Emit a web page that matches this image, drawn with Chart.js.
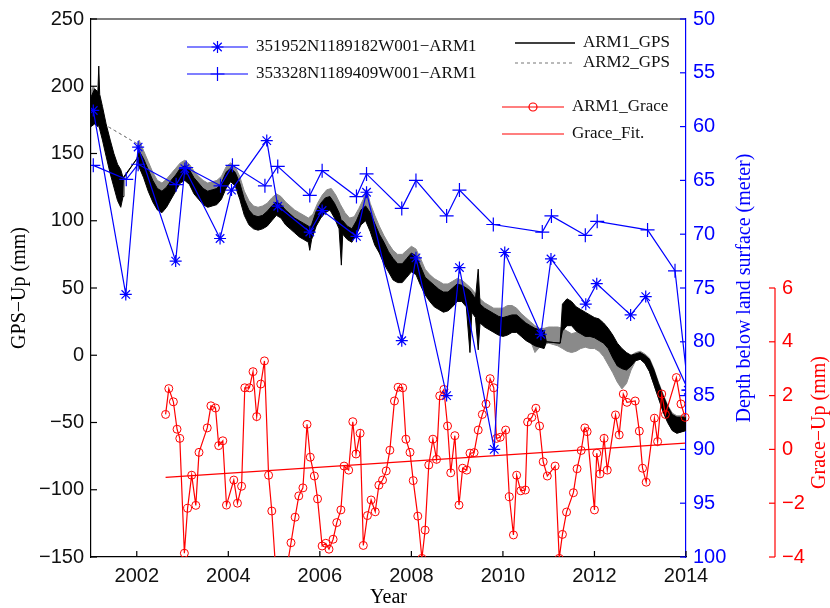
<!DOCTYPE html>
<html><head><meta charset="utf-8">
<script src="https://cdn.jsdelivr.net/npm/chart.js@4/dist/chart.umd.min.js"></script>
<style>html,body{margin:0;padding:0;background:#fff}</style>
</head><body>
<canvas id="c" width="830" height="608" style="width:830px;height:608px;display:block"></canvas>
<script>
// ---------- tick labels ----------
const xTicks = [2002, 2004, 2006, 2008, 2010, 2012, 2014];
const gpsTicks = [-150, -100, -50, 0, 50, 100, 150, 200, 250];
const depthTicks = [50, 55, 60, 65, 70, 75, 80, 85, 90, 95, 100];
const graceTicks = [-4, -2, 0, 2, 4, 6];

// ---------- ARM1_GPS (black), envelope (mm) ----------
const arm1T  = [2001.00,2001.08,2001.15,2001.17,2001.19,2001.25,2001.33,2001.42,2001.50,2001.58,2001.65,2001.70,2001.72,2002.00,2002.05,2002.15,2002.25,2002.35,2002.45,2002.55,2002.65,2002.75,2002.85,2002.95,2003.05,2003.15,2003.25,2003.35,2003.45,2003.55,2003.65,2003.75,2003.85,2003.95,2004.05,2004.15,2004.25,2004.35,2004.45,2004.55,2004.65,2004.75,2004.85,2004.95,2005.05,2005.15,2005.25,2005.35,2005.45,2005.55,2005.65,2005.75,2005.78,2005.82,2005.92,2006.02,2006.12,2006.22,2006.32,2006.42,2006.47,2006.50,2006.60,2006.70,2006.80,2006.90,2007.00,2007.10,2007.20,2007.30,2007.40,2007.50,2007.60,2007.70,2007.80,2007.90,2008.00,2008.10,2008.20,2008.30,2008.40,2008.50,2008.60,2008.70,2008.80,2008.90,2009.00,2009.10,2009.20,2009.28,2009.32,2009.40,2009.46,2009.50,2009.60,2009.70,2009.80,2009.90,2010.00,2010.10,2010.20,2010.30,2010.40,2010.50,2010.60,2010.70,2010.80,2010.90,2010.95,2011.25,2011.30,2011.40,2011.50,2011.60,2011.70,2011.80,2011.90,2012.00,2012.10,2012.20,2012.30,2012.40,2012.50,2012.60,2012.70,2012.80,2012.90,2013.00,2013.10,2013.20,2013.30,2013.40,2013.50,2013.60,2013.70,2013.80,2013.90,2014.00];
const arm1Lo = [170,172,170,172,168,160,148,135,125,115,110,118,132,146,140,132,122,114,108,106,110,116,122,128,130,127,120,116,112,110,111,112,116,124,129,126,116,104,97,94,93,94,96,100,104,102,97,94,91,88,86,84,78,86,96,102,106,108,102,94,67,90,86,84,90,97,100,92,82,76,68,62,56,54,54,58,62,60,52,45,40,36,34,32,33,36,40,40,36,2,32,28,4,24,21,19,17,15,14,15,17,17,14,11,9,7,6,5,10,9,18,22,22,18,16,14,14,13,11,9,5,-2,-8,-10,-11,-8,-4,-3,-6,-12,-22,-32,-42,-50,-56,-58,-57,-56];
const arm1Hi = [192,198,196,215,194,185,172,160,150,142,138,132,132,146,152,146,138,130,124,122,125,130,134,139,141,138,132,128,124,122,123,124,128,136,139,136,128,116,108,104,103,104,107,111,114,112,108,105,102,100,98,96,95,97,107,113,117,118,113,106,100,100,96,94,100,108,111,106,98,90,84,77,72,68,68,72,76,74,66,58,55,52,49,47,47,50,53,52,50,48,46,42,64,38,35,33,31,29,28,29,30,30,27,24,22,20,19,18,10,9,38,42,40,36,34,32,30,28,27,24,20,15,9,5,2,0,1,2,0,-3,-11,-21,-30,-38,-44,-46,-46,-46];

// ---------- ARM2_GPS (grey) ----------
const arm2T  = [2001.00,2001.05,2001.12,2001.20,2001.26,2001.27,2002.02,2002.05,2002.15,2002.25,2002.35,2002.45,2002.55,2002.65,2002.75,2002.85,2002.95,2003.05,2003.15,2003.25,2003.35,2003.45,2003.55,2003.65,2003.75,2003.85,2003.95,2004.05,2004.15,2004.25,2004.35,2004.45,2004.55,2004.65,2004.75,2004.85,2004.95,2005.05,2005.15,2005.25,2005.35,2005.45,2005.55,2005.65,2005.75,2005.85,2005.95,2006.05,2006.15,2006.25,2006.35,2006.45,2006.55,2006.65,2006.75,2006.85,2006.95,2007.02,2007.10,2007.20,2007.30,2007.40,2007.50,2007.60,2007.70,2007.80,2007.90,2008.00,2008.10,2008.20,2008.30,2008.40,2008.50,2008.60,2008.70,2008.80,2008.90,2009.00,2009.10,2009.20,2009.30,2009.40,2009.50,2009.60,2009.70,2009.80,2009.90,2010.00,2010.10,2010.20,2010.30,2010.40,2010.50,2010.60,2010.70,2010.80,2010.90,2011.00,2011.10,2011.20,2011.30,2011.40,2011.50,2011.60,2011.70,2011.80,2011.90,2012.00,2012.10,2012.20,2012.30,2012.40,2012.50,2012.60,2012.70,2012.80,2012.90,2013.00,2013.10,2013.20,2013.30,2013.40,2013.50,2013.60,2013.70,2013.80,2013.90,2014.00];
const arm2Lo = [176,178,172,168,166,172,157,150,140,130,122,116,114,117,122,127,132,134,131,125,121,118,116,117,118,122,129,133,130,121,110,103,100,99,100,102,106,109,108,103,100,97,94,92,90,94,102,108,112,113,108,100,95,92,92,98,104,106,100,90,82,75,69,64,62,62,65,68,66,58,51,47,44,42,40,40,42,45,44,40,36,32,28,26,24,22,22,22,24,24,22,18,15,11,2,6,8,9,8,7,5,3,2,3,5,6,5,5,3,-1,-7,-13,-20,-25,-21,-11,-4,-3,-6,-12,-22,-32,-42,-50,-56,-58,-57,-56];
const arm2Hi = [196,200,195,188,178,172,157,160,152,144,136,130,128,131,135,139,143,145,142,137,133,130,128,129,130,133,140,143,140,133,122,115,111,110,111,113,117,120,118,114,111,108,106,104,102,105,113,119,123,124,119,112,106,102,103,109,116,124,113,104,96,89,83,78,75,75,78,81,79,72,64,60,57,55,53,53,55,57,56,53,50,46,42,39,37,35,35,35,37,37,35,31,28,25,22,20,20,21,21,21,20,18,16,17,19,20,18,18,16,12,6,0,-7,-11,-8,0,2,3,1,-2,-10,-20,-29,-37,-43,-45,-45,-45];
const arm2GapStart = 2001.27, arm2GapEnd = 2002.02;

// ---------- groundwater depth (m) ----------
const well1T = [2001.05,2001.76,2002.03,2002.85,2003.05,2003.82,2004.07,2004.84,2005.08,2005.78,2006.05,2006.80,2007.02,2007.79,2008.10,2008.77,2009.05,2009.81,2010.04,2010.83,2011.05,2011.81,2012.05,2012.79,2013.12,2014.05];
const well1D = [58.5,75.6,61.9,72.5,63.9,70.4,65.9,61.3,67.4,69.8,67.8,70.2,66.1,79.9,72.2,85.0,73.1,90.0,71.7,79.3,72.3,76.5,74.6,77.5,75.8,84.5];
const well2T = [2001.05,2001.77,2002.03,2002.86,2003.08,2003.83,2004.09,2004.80,2005.08,2005.78,2006.05,2006.80,2007.02,2007.79,2008.10,2008.77,2009.05,2009.79,2010.86,2011.06,2011.80,2012.06,2013.16,2013.76,2014.05];
const well2D = [63.6,64.9,63.5,65.4,63.8,65.5,63.6,65.5,63.7,66.4,64.1,66.5,64.4,67.6,65.0,68.3,65.9,69.1,69.8,68.3,70.1,68.8,69.6,73.4,84.5];

// ---------- GRACE (mm) ----------
const graceT = [2002.63,2002.70,2002.80,2002.88,2002.94,2003.04,2003.11,2003.20,2003.29,2003.36,2003.54,2003.62,2003.72,2003.79,2003.88,2003.96,2004.12,2004.20,2004.29,2004.36,2004.46,2004.54,2004.62,2004.71,2004.79,2004.88,2004.95,2005.04,2005.12,2005.21,2005.29,2005.37,2005.46,2005.54,2005.63,2005.72,2005.79,2005.88,2005.95,2006.05,2006.13,2006.20,2006.29,2006.37,2006.46,2006.53,2006.63,2006.72,2006.79,2006.88,2006.95,2007.04,2007.12,2007.21,2007.29,2007.37,2007.45,2007.53,2007.63,2007.71,2007.81,2007.88,2007.97,2008.04,2008.14,2008.23,2008.30,2008.38,2008.47,2008.55,2008.62,2008.71,2008.79,2008.86,2008.95,2009.04,2009.12,2009.21,2009.28,2009.37,2009.46,2009.55,2009.63,2009.72,2009.80,2009.86,2009.94,2010.06,2010.14,2010.23,2010.30,2010.39,2010.49,2010.54,2010.63,2010.72,2010.80,2010.88,2010.97,2011.14,2011.23,2011.30,2011.39,2011.54,2011.62,2011.71,2011.79,2011.84,2012.00,2012.05,2012.12,2012.21,2012.28,2012.46,2012.54,2012.63,2012.71,2012.89,2012.98,2013.05,2013.13,2013.31,2013.38,2013.47,2013.55,2013.79,2013.89,2013.98];
const graceV = [1.30,2.26,1.77,0.75,0.41,-3.86,-2.19,-0.96,-2.08,-0.11,0.80,1.62,1.54,0.14,0.32,-2.07,-1.14,-2.00,-1.37,2.29,2.29,2.89,1.22,2.43,3.29,-0.96,-2.29,-4.6,-5.8,-5.2,-4.3,-3.47,-2.52,-1.73,-1.43,0.93,-0.29,-0.99,-1.84,-3.59,-3.49,-3.71,-3.34,-2.72,-2.25,-0.62,-0.77,1.03,-0.17,0.60,-3.57,-2.46,-1.88,-2.32,-1.33,-1.14,-0.80,-0.03,1.80,2.31,2.29,0.38,-0.11,-1.16,-2.48,-4.05,-3.00,-0.58,0.38,-0.37,1.99,2.23,0.87,-0.87,0.51,-2.07,-0.70,-0.77,-0.14,-0.12,0.72,1.30,1.69,2.63,2.29,0.41,0.45,0.72,-1.76,-3.18,-0.96,-1.54,-1.51,1.02,1.19,1.53,0.87,-0.46,-0.99,-0.62,-4.05,-3.16,-2.33,-1.61,-0.72,-0.04,0.80,0.66,-2.25,-0.14,-0.91,0.41,-0.77,1.28,0.54,2.06,1.75,1.80,0.68,-0.70,-1.22,1.16,0.29,2.06,1.30,2.67,1.69,1.19];
const fitT = [2002.63, 2013.98];
const fitV = [-1.04, 0.23];

// ---------- chart ----------
const BLUE = '#0000ff', RED = '#ff0000', GREY = '#8a8a8a';
const pts = (t, v) => t.map((x, i) => ({x: x, y: v[i]}));
const fmt = v => String(v).replace('-', '\u2212');
const setTicks = arr => s => { s.ticks = arr.map(v => ({value: v})); };
const SANS = 'Liberation Sans', SERIF = 'Liberation Serif';
const greyGapDash = c => (c.p0.parsed.x >= arm2GapStart && c.p1.parsed.x <= arm2GapEnd) ? [3, 3] : undefined;

const deco = {
  id: 'deco',
  afterDraw(chart) {
    const {ctx, chartArea: a, scales} = chart;
    const L = (x1, y1, x2, y2) => { ctx.beginPath(); ctx.moveTo(x1, y1); ctx.lineTo(x2, y2); ctx.stroke(); };
    ctx.save();
    ctx.lineWidth = 1.2;
    ctx.strokeStyle = '#000';
    L(a.left, a.top, a.right, a.top);
    xTicks.forEach(v => { const x = scales.x.getPixelForValue(v); L(x, a.bottom, x, a.bottom - 6); });
    gpsTicks.forEach(v => { const y = scales.y.getPixelForValue(v); L(a.left, y, a.left + 6, y); });
    ctx.strokeStyle = BLUE;
    depthTicks.forEach(v => { const y = scales.yd.getPixelForValue(v); L(a.right, y, a.right - 6, y); });
    const g = scales.yg, rx = g.left;
    ctx.strokeStyle = RED;
    L(rx, g.getPixelForValue(graceTicks[0]), rx, g.getPixelForValue(graceTicks[graceTicks.length - 1]));
    graceTicks.forEach(v => { const y = g.getPixelForValue(v); L(rx, y, rx - 6, y); });

    const vtext = (txt, x, y, col) => {
      ctx.save(); ctx.translate(x, y); ctx.rotate(-Math.PI / 2);
      ctx.fillStyle = col; ctx.textAlign = 'center'; ctx.textBaseline = 'middle';
      ctx.fillText(txt, 0, 0); ctx.restore();
    };
    ctx.font = '20px "' + SERIF + '"';
    vtext('GPS\u2212Up (mm)', 20, (a.top + a.bottom) / 2, '#000');
    vtext('Depth below land surface (meter)', 745, (a.top + a.bottom) / 2, BLUE);
    vtext('Grace\u2212Up (mm)', 820, (g.getPixelForValue(-4) + g.getPixelForValue(6)) / 2, RED);
    ctx.fillStyle = '#000'; ctx.textAlign = 'center'; ctx.textBaseline = 'middle';
    ctx.fillText('Year', (a.left + a.right) / 2, 598);

    const ds = chart.data.datasets;
    ctx.font = '17px "' + SERIF + '"';
    ctx.textAlign = 'left'; ctx.textBaseline = 'middle';
    const entry = (x1, x2, y, d, text, dash) => {
      ctx.save();
      ctx.strokeStyle = d.borderColor; ctx.lineWidth = d.borderWidth || 1.2;
      if (dash) ctx.setLineDash(dash);
      L(x1, y, x2, y);
      ctx.restore();
      if (d.pointRadius > 0) {
        ctx.save(); ctx.strokeStyle = d.borderColor; ctx.fillStyle = 'rgba(0,0,0,0)';
        Chart.helpers.drawPoint(ctx, {pointStyle: d.pointStyle, radius: d.pointRadius, rotation: 0, borderWidth: d.pointBorderWidth || 1}, (x1 + x2) / 2, y);
        ctx.restore();
      }
      ctx.fillStyle = '#111';
      ctx.fillText(text, x2 + 8, y);
    };
    entry(187, 248, 47, ds[4], '351952N1189182W001\u2212ARM1');
    entry(187, 248, 74, ds[5], '353328N1189409W001\u2212ARM1');
    entry(515, 575, 43, {borderColor: '#000', borderWidth: 1.5, pointRadius: 0}, 'ARM1_GPS');
    entry(515, 575, 63, {borderColor: '#777', borderWidth: 1, pointRadius: 0}, 'ARM2_GPS', [3, 3]);
    entry(502, 564, 107, ds[6], 'ARM1_Grace');
    entry(502, 564, 134, ds[7], 'Grace_Fit.');
    ctx.restore();
  }
};

new Chart(document.getElementById('c').getContext('2d'), {
  type: 'scatter',
  data: {
    datasets: [
      {label: 'ARM2 lo', data: pts(arm2T, arm2Lo), yAxisID: 'y', showLine: true, borderColor: GREY, borderWidth: 1, pointRadius: 0, order: 6, segment: {borderDash: greyGapDash}},
      {label: 'ARM2 hi', data: pts(arm2T, arm2Hi), yAxisID: 'y', showLine: true, borderColor: GREY, borderWidth: 1, pointRadius: 0, fill: '-1', backgroundColor: GREY, order: 6, segment: {borderDash: greyGapDash}},
      {label: 'ARM1 lo', data: pts(arm1T, arm1Lo), yAxisID: 'y', showLine: true, borderColor: '#000', borderWidth: 1, pointRadius: 0, order: 5},
      {label: 'ARM1 hi', data: pts(arm1T, arm1Hi), yAxisID: 'y', showLine: true, borderColor: '#000', borderWidth: 1, pointRadius: 0, fill: '-1', backgroundColor: '#000', order: 5},
      {label: '351952N1189182W001-ARM1', data: pts(well1T, well1D), yAxisID: 'yd', showLine: true, borderColor: BLUE, backgroundColor: BLUE, borderWidth: 1.2, pointStyle: 'star', pointRadius: 6, pointBorderWidth: 1.2, order: 1},
      {label: '353328N1189409W001-ARM1', data: pts(well2T, well2D), yAxisID: 'yd', showLine: true, borderColor: BLUE, backgroundColor: BLUE, borderWidth: 1.2, pointStyle: 'cross', pointRadius: 7, pointBorderWidth: 1.2, order: 1},
      {label: 'ARM1_Grace', data: pts(graceT, graceV), yAxisID: 'yg', showLine: true, borderColor: RED, backgroundColor: 'rgba(0,0,0,0)', borderWidth: 1.2, pointStyle: 'circle', pointRadius: 4, pointBorderWidth: 1, order: 2, clip: {left: 6, right: 6, top: 6, bottom: 0}},
      {label: 'Grace_Fit.', data: pts(fitT, fitV), yAxisID: 'yg', showLine: true, borderColor: RED, borderWidth: 1.2, pointRadius: 0, order: 3}
    ]
  },
  options: {
    responsive: false, animation: false, devicePixelRatio: 1,
    layout: {padding: {top: 18, left: 0, right: 0, bottom: 0}},
    plugins: {legend: {display: false}, tooltip: {enabled: false}},
    scales: {
      x: {type: 'linear', position: 'bottom', min: 2001, max: 2014,
          grid: {drawOnChartArea: false, drawTicks: false}, border: {color: '#000', width: 1.2},
          ticks: {color: '#111', padding: 7, autoSkip: false, maxRotation: 0, font: {family: SANS, size: 20}, callback: fmt},
          afterBuildTicks: setTicks(xTicks), afterFit: s => { s.height = 51; }},
      y: {position: 'left', min: -150, max: 250,
          grid: {drawOnChartArea: false, drawTicks: false}, border: {color: '#000', width: 1.2},
          ticks: {color: '#111', padding: 7, autoSkip: false, font: {family: SANS, size: 20}, callback: fmt},
          afterBuildTicks: setTicks(gpsTicks), afterFit: s => { s.width = 91; }},
      yd: {position: 'right', reverse: true, min: 50, max: 100, weight: 0,
          grid: {drawOnChartArea: false, drawTicks: false}, border: {color: BLUE, width: 1.2},
          ticks: {color: BLUE, padding: 7, autoSkip: false, font: {family: SANS, size: 20}, callback: fmt},
          afterBuildTicks: setTicks(depthTicks), afterFit: s => { s.width = 89; }},
      yg: {position: 'right', min: -4, max: 16, weight: 1,
          grid: {drawOnChartArea: false, drawTicks: false}, border: {display: false},
          ticks: {color: RED, padding: 7, autoSkip: false, font: {family: SANS, size: 20}, callback: fmt},
          afterBuildTicks: setTicks(graceTicks), afterFit: s => { s.width = 55; }}
    }
  },
  plugins: [deco]
});
</script>
</body></html>
